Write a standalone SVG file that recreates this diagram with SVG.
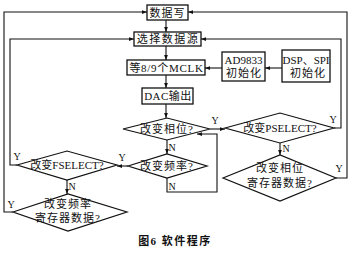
<svg xmlns="http://www.w3.org/2000/svg" width="350" height="258" viewBox="0 0 350 258">
<defs>
<marker id="ah" viewBox="0 0 8 6" refX="8" refY="3" markerWidth="5" markerHeight="4" orient="auto" markerUnits="userSpaceOnUse">
<path d="M0,0 L8,3 L0,6 Z" fill="#111"/>
</marker>
</defs>
<style>
.bx{fill:#fff;stroke:#111;stroke-width:1.3}
.dm{fill:#fff;stroke:#111;stroke-width:1.2}
.ln{fill:none;stroke:#111;stroke-width:1.1;marker-end:url(#ah)}
text{font-family:"Liberation Serif","Noto Sans CJK SC",serif;font-size:11px;fill:#111;text-anchor:middle}
.lb{font-size:10px}
.sp{letter-spacing:1px}
.cap{font-weight:bold;font-size:11px;letter-spacing:1.5px}
</style>
<rect width="350" height="258" fill="#fff"/>
<g id="connectors">
<path class="ln" d="M166,20 V32"/>
<path class="ln" d="M166,46 V60"/>
<path class="ln" d="M166,75 V88"/>
<path class="ln" d="M166,104 V118"/>
<path class="ln" d="M282,68 H265"/>
<path class="ln" d="M222,68 H205"/>
<path class="ln" d="M210,129 H225"/>
<path class="ln" d="M167,140 V154"/>
<path class="ln" d="M128,166 H117"/>
<path class="ln" d="M167,178 V192 H217 V134 H197"/>
<path class="ln" d="M17,165 H10 V39 H134"/>
<path class="ln" d="M67,180 V194"/>
<path class="ln" d="M13,212 H4 V12 H147"/>
<path class="ln" d="M334,128 H341 V39 H201"/>
<path class="ln" d="M280,143 V155"/>
<path class="ln" d="M336,178 H347 V12 H188"/>
<text class="lb" x="215" y="124">Y</text>
<text class="lb" x="172" y="151">N</text>
<text class="lb" x="122" y="161">Y</text>
<text class="lb" x="172" y="190">N</text>
<text class="lb" x="17" y="160">Y</text>
<text class="lb" x="72" y="190">N</text>
<text class="lb" x="11" y="208">Y</text>
<text class="lb" x="333" y="123">Y</text>
<text class="lb" x="286" y="152">N</text>
<text class="lb" x="339" y="172">Y</text>
</g>
<g id="n_write"><rect class="bx" x="147" y="5" width="41" height="15"/><text x="167.5" y="16.5" letter-spacing="1">数据写</text></g>
<g id="n_select"><rect class="bx" x="134" y="32" width="67" height="14"/><text x="168" y="43" letter-spacing="1.5">选择数据源</text></g>
<g id="n_mclk"><rect class="bx" x="127" y="60" width="78" height="15"/><text x="166.5" y="71.5" letter-spacing="0.7">等8/9个MCLK</text></g>
<g id="n_dac"><rect class="bx" x="142" y="88" width="51" height="16"/><text x="168" y="100" letter-spacing="0.5">DAC输出</text></g>
<g id="n_ad9833"><rect class="bx" x="222" y="52" width="43" height="29"/><text x="243.5" y="64">AD9833</text><text x="244" y="77" letter-spacing="1">初始化</text></g>
<g id="n_dsp"><rect class="bx" x="282" y="50" width="48" height="32"/><text x="306" y="64">DSP、SPI</text><text x="308" y="77" letter-spacing="1">初始化</text></g>
<g id="d_phase"><polygon class="dm" points="123,129 167,118 210,129 167,140"/><text class="sp" x="167" y="133">改变相位?</text></g>
<g id="d_freq"><polygon class="dm" points="128,166 167,154 207,166 167,178"/><text class="sp" x="167" y="170">改变频率?</text></g>
<g id="d_fselect"><polygon class="dm" points="17,165 67,151 117,165 67,180"/><text x="67" y="169">改变FSELECT?</text></g>
<g id="d_freqreg"><polygon class="dm" points="13,212 68,194 127,212 68,231"/><text class="sp" x="68" y="208">改变频率</text><text class="sp" x="68" y="222">寄存器数据?</text></g>
<g id="d_pselect"><polygon class="dm" points="225,128 280,113 334,128 280,143"/><text x="280" y="132">改变PSELECT?</text></g>
<g id="d_phasereg"><polygon class="dm" points="223,178 280,155 336,178 280,201"/><text class="sp" x="280" y="172">改变相位</text><text class="sp" x="280" y="187">寄存器数据?</text></g>
<text class="cap" x="175" y="245">图6 软件程序</text>
</svg>
